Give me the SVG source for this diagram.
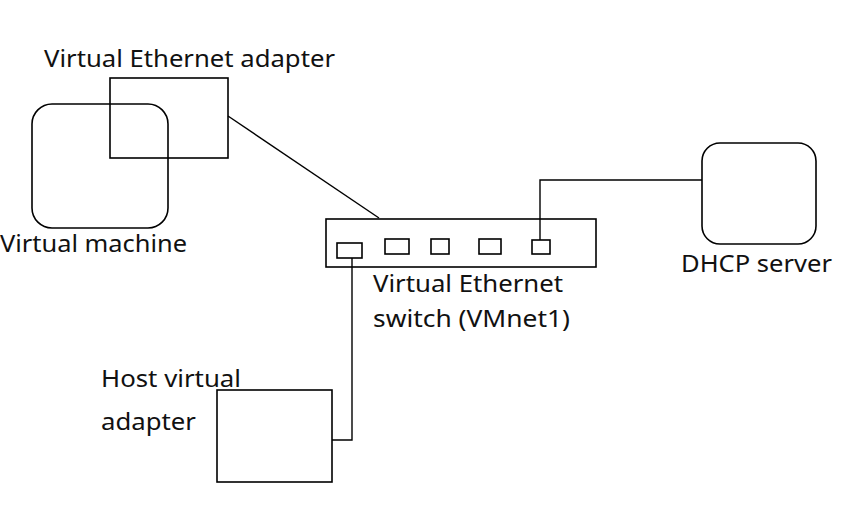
<svg xmlns="http://www.w3.org/2000/svg" width="854" height="524" viewBox="0 0 854 524">
<style>
.s{fill:none;stroke:#000;stroke-width:1.6}
.c{fill:none;stroke:#000;stroke-width:1.4}
text{font-family:"Noto Sans","Open Sans","Liberation Sans",sans-serif;font-size:24px;fill:#111}
</style>
<rect width="854" height="524" fill="#fff"/>
<g id="connectors">
<path class="c" d="M228,116 L379,218"/>
<path class="c" d="M540,240 V180 H702"/>
<path class="c" d="M352,258 V440 H332"/>
</g>
<g id="vm">
<rect class="s" x="32" y="104" width="136" height="124" rx="20"/>
<text x="0" y="252" textLength="187" lengthAdjust="spacingAndGlyphs">Virtual machine</text>
</g>
<g id="adapter">
<rect class="s" x="110" y="78" width="118" height="80"/>
<text x="44" y="67" textLength="291" lengthAdjust="spacingAndGlyphs">Virtual Ethernet adapter</text>
</g>
<g id="switch">
<rect class="s" x="326" y="219" width="270" height="48"/>
<rect class="s" x="337" y="243" width="25" height="15"/>
<rect class="s" x="385" y="239" width="24" height="15"/>
<rect class="s" x="431" y="239" width="18" height="15"/>
<rect class="s" x="479" y="239" width="22" height="15"/>
<rect class="s" x="532" y="240" width="18" height="14"/>
<text x="373" y="292" textLength="190" lengthAdjust="spacingAndGlyphs">Virtual Ethernet</text>
<text x="373" y="327" textLength="197" lengthAdjust="spacingAndGlyphs">switch (VMnet1)</text>
</g>
<g id="dhcp">
<rect class="s" x="702" y="143" width="114" height="101" rx="18"/>
<text x="681" y="272" textLength="151" lengthAdjust="spacingAndGlyphs">DHCP server</text>
</g>
<g id="host">
<rect class="s" x="217" y="390" width="115" height="92"/>
<text x="101" y="387" textLength="140" lengthAdjust="spacingAndGlyphs">Host virtual</text>
<text x="101" y="430" textLength="95" lengthAdjust="spacingAndGlyphs">adapter</text>
</g>
</svg>
